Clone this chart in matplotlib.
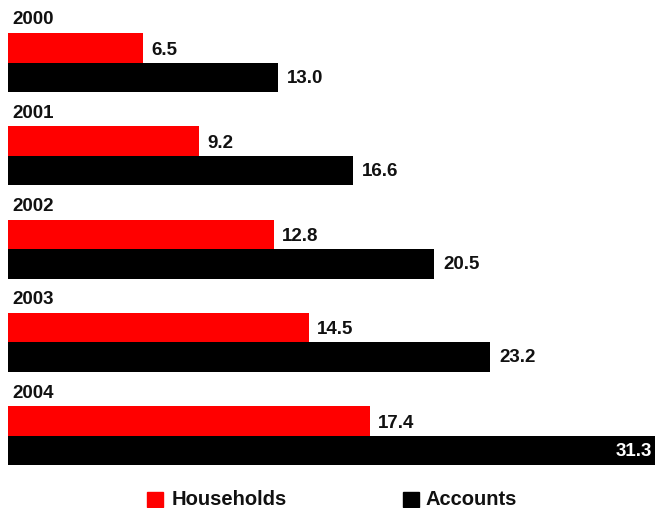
import matplotlib
matplotlib.use("Agg")
import matplotlib.pyplot as plt
from matplotlib.patches import Rectangle

years = ["2000", "2001", "2002", "2003", "2004"]
households = [6.5, 9.2, 12.8, 14.5, 17.4]
accounts = [13.0, 16.6, 20.5, 23.2, 31.3]
series_names = ["Households", "Accounts"]
colors = ["#ff0000", "#000000"]

W, H = 655, 508
fig = plt.figure(figsize=(W / 100, H / 100), dpi=100)
ax = fig.add_axes([0, 0, 1, 1])
font = "Liberation Sans"

px_per_unit = 20.78
x0 = 8
ax.set_xlim(-x0 / px_per_unit, (W - x0) / px_per_unit)
ax.set_ylim(H, 0)
ax.axis("off")

first_top = 33
spacing = 93.25
bh = 29.5
fs = 13.5

for i, (yr, hv, av) in enumerate(zip(years, households, accounts)):
    top = first_top + spacing * i
    yr_c = top + bh / 2
    yb_c = top + bh + bh / 2
    ax.barh(yr_c, hv, height=bh, color=colors[0], left=0)
    ax.barh(yb_c, av, height=bh, color=colors[1], left=0)
    ax.text(4 / px_per_unit, top - 13, yr, fontsize=fs, fontweight="bold", family=font,
            va="center", ha="left", color="#111111")
    ax.text(hv + 8 / px_per_unit, yr_c + 2.5, f"{hv:.1f}", fontsize=fs,
            fontweight="bold", family=font, va="center", ha="left", color="#111111")
    xmax = ax.get_xlim()[1]
    if av + 2.5 > xmax:
        ax.text(xmax - 3 / px_per_unit, yb_c + 1, f"{av:.1f}", fontsize=fs,
                fontweight="bold", family=font, va="center", ha="right", color="white")
    else:
        ax.text(av + 9 / px_per_unit, yb_c + 1, f"{av:.1f}", fontsize=fs,
                fontweight="bold", family=font, va="center", ha="left", color="#111111")

# legend
leg_items = [(147, 172), (403, 425)]
for (sx, tx), name, c in zip(leg_items, series_names, colors):
    fig.patches.append(Rectangle((sx / W, 1 - 507 / H), 16 / W, 15 / H,
                                 transform=fig.transFigure, color=c))
    fig.text(tx / W, 1 - 499.5 / H, name, fontsize=14.5, fontweight="bold",
             family=font, va="center", ha="left", color="#111111")

fig.savefig("out.png", dpi=100, facecolor="white")
